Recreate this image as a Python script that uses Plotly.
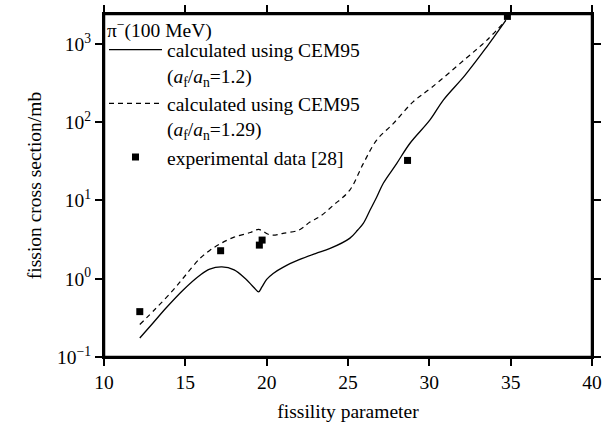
import plotly.graph_objects as go

# solid curve: CEM95, af/an = 1.2
x_solid = [12.2, 13.0, 13.8, 14.87, 15.9, 16.5, 17.25, 18.0, 18.7, 19.2, 19.5, 19.7,
           20.0, 20.4, 21.0, 22.0, 23.0, 23.9, 25.1, 25.6, 25.94, 26.35, 26.76, 27.17,
           27.99, 28.8, 30.04, 30.86, 32.2, 33.5, 34.7]
y_solid = [0.175, 0.27, 0.42, 0.72, 1.11, 1.33, 1.42, 1.3, 1.0, 0.78, 0.68, 0.78,
           0.98, 1.17, 1.4, 1.75, 2.1, 2.44, 3.28, 4.2, 5.1, 7.5, 11.0, 16.6,
           29.6, 53.5, 107, 192, 400, 900, 2000]

# dashed curve: CEM95, af/an = 1.29
x_dash = [12.2, 13.2, 14.26, 15.0, 15.9, 16.5, 17.15, 18.0, 19.0, 19.5, 19.8, 20.1,
          20.4, 21.0, 22.0, 22.66, 23.3, 24.1, 25.1, 25.94, 26.76, 27.78, 29.0,
          30.16, 32.2, 33.5, 34.7]
y_dash = [0.26, 0.42, 0.72, 1.1, 1.82, 2.3, 2.8, 3.4, 3.9, 4.27, 4.0, 3.7,
          3.6, 3.8, 4.2, 5.3, 6.3, 8.7, 13.5, 29.6, 59, 96, 182,
          280, 640, 1100, 2000]

# experimental data [28]
x_exp = [12.2, 17.17, 19.55, 19.72, 28.66, 34.8]
y_exp = [0.38, 2.28, 2.69, 3.12, 32.5, 2250]

# axis ranges and tick values
X_RANGE = [10, 40]
Y_LOG_RANGE = [-1, 3.383]
x_major = [10, 15, 20, 25, 30, 35, 40]
x_minor = [v for v in range(11, 40) if v % 5 != 0]
y_tickvals = [0.1, 1, 10, 100, 1000]
y_ticktext = ["10<sup>−1</sup>", "10<sup>0</sup>", "10<sup>1</sup>", "10<sup>2</sup>", "10<sup>3</sup>"]
y_minor_vals = [m * d for d in [0.1, 1, 10, 100, 1000] for m in range(2, 10) if m * d < 2400]

FONT = "Liberation Serif"
FS = 19.5
W, H = 611, 428
ML, MR, MT, MB = 104, 19, 14, 71
PW, PH = W - ML - MR, H - MT - MB
MAJ, MIN = 7, 4  # tick lengths in px

# data units per pixel (for outward tick marks just outside the frame)
dx_px = (X_RANGE[1] - X_RANGE[0]) / PW
dlog_px = (Y_LOG_RANGE[1] - Y_LOG_RANGE[0]) / PH
y_lo, y_hi = 10 ** Y_LOG_RANGE[0], 10 ** Y_LOG_RANGE[1]

fig = go.Figure()

# frame (drawn as a trace along the axis range edges)
fig.add_trace(go.Scatter(
    x=[X_RANGE[0], X_RANGE[1], X_RANGE[1], X_RANGE[0], X_RANGE[0]],
    y=[y_lo, y_lo, y_hi, y_hi, y_lo], mode="lines",
    line=dict(color="black", width=2.5), showlegend=False, hoverinfo="skip"))


def seg_trace(xs, ys):
    return go.Scatter(x=xs, y=ys, mode="lines", cliponaxis=False, showlegend=False,
                      hoverinfo="skip", line=dict(color="black", width=1.5))


def err_trace(xs, ys, **err):
    return go.Scatter(x=xs, y=ys, mode="markers", cliponaxis=False, showlegend=False,
                      hoverinfo="skip", marker=dict(size=1, color="rgba(0,0,0,0)"), **err)


# tick marks on all four sides, outward (segments + error bars)
for vals, L in [(x_major, MAJ), (x_minor, MIN)]:
    f = 10 ** (L * dlog_px)
    xs, yb, yt = [], [], []
    for v in vals:
        xs += [v, v, None]
        yb += [y_lo, y_lo / f, None]
        yt += [y_hi, y_hi * f, None]
    fig.add_trace(seg_trace(xs, yb))
    fig.add_trace(seg_trace(xs, yt))
    n = len(vals)
    fig.add_trace(err_trace(vals, [y_lo] * n, error_y=dict(
        type="data", symmetric=False, array=[0] * n, arrayminus=[y_lo * (1 - 1 / f)] * n,
        width=0, thickness=1.5, color="black")))
    fig.add_trace(err_trace(vals, [y_hi] * n, error_y=dict(
        type="data", symmetric=False, array=[y_hi * (f - 1)] * n, arrayminus=[0] * n,
        width=0, thickness=1.5, color="black")))
for vals, L in [(y_tickvals, MAJ), (y_minor_vals, MIN)]:
    d = L * dx_px
    ys, xl, xr = [], [], []
    for v in vals:
        ys += [v, v, None]
        xl += [X_RANGE[0], X_RANGE[0] - d, None]
        xr += [X_RANGE[1], X_RANGE[1] + d, None]
    fig.add_trace(seg_trace(xl, ys))
    fig.add_trace(seg_trace(xr, ys))
    n = len(vals)
    fig.add_trace(err_trace([X_RANGE[0]] * n, vals, error_x=dict(
        type="data", symmetric=False, array=[0] * n, arrayminus=[d] * n,
        width=0, thickness=1.5, color="black")))
    fig.add_trace(err_trace([X_RANGE[1]] * n, vals, error_x=dict(
        type="data", symmetric=False, array=[d] * n, arrayminus=[0] * n,
        width=0, thickness=1.5, color="black")))

fig.add_trace(go.Scatter(
    x=x_solid, y=y_solid, mode="lines", line=dict(color="black", width=1.3, shape="spline"),
    name="calculated using CEM95<br>(<i>a</i><sub>f</sub>/<i>a</i><sub>n</sub>=1.2)"))
fig.add_trace(go.Scatter(
    x=x_dash, y=y_dash, mode="lines",
    line=dict(color="black", width=1.2, dash="5px,4px", shape="spline"),
    name="calculated using CEM95<br>(<i>a</i><sub>f</sub>/<i>a</i><sub>n</sub>=1.29)"))
fig.add_trace(go.Scatter(
    x=x_exp, y=y_exp, mode="markers", cliponaxis=False,
    marker=dict(symbol="square", size=7, color="black"),
    name="experimental data [28]"))

fig.update_xaxes(
    range=X_RANGE, tickmode="array", tickvals=x_major, ticks="outside", ticklen=MAJ,
    tickwidth=1.5, tickcolor="#000000", showline=True, linecolor="#000000", linewidth=2,
    mirror="ticks", showgrid=False, zeroline=False,
    tickfont=dict(family=FONT, size=FS, color="black"),
    title=dict(text="fissility parameter", font=dict(family=FONT, size=FS, color="black"),
               standoff=12))
fig.update_yaxes(
    type="log", range=Y_LOG_RANGE, tickmode="array", tickvals=y_tickvals, ticktext=y_ticktext,
    ticks="outside", ticklen=MAJ, tickwidth=1.5, tickcolor="#000000",
    showline=True, linecolor="#000000", linewidth=2, mirror="ticks",
    showgrid=False, zeroline=False,
    tickfont=dict(family=FONT, size=FS, color="black"),
    title=dict(text="fission cross section/mb", font=dict(family=FONT, size=FS, color="black"),
               standoff=10))

fig.add_annotation(
    text="π<sup>−</sup>(100 MeV)", xref="paper", yref="paper", x=0, y=1,
    xanchor="left", yanchor="top", xshift=1, yshift=-1, showarrow=False,
    font=dict(family=FONT, size=FS, color="black"))

fig.update_layout(
    template="none",
    width=W, height=H,
    margin=dict(l=ML, r=MR, t=MT, b=MB),
    plot_bgcolor="white", paper_bgcolor="white",
    font=dict(family=FONT, size=FS, color="black"),
    legend=dict(
        x=0.0, y=0.952, xanchor="left", yanchor="top",
        bgcolor="rgba(0,0,0,0)", borderwidth=0, valign="top",
        font=dict(family=FONT, size=FS), tracegroupgap=0, itemwidth=53,
    ),
)

fig.write_html("out.html", config={"displayModeBar": False},
               post_script="document.body.style.margin='0';")
